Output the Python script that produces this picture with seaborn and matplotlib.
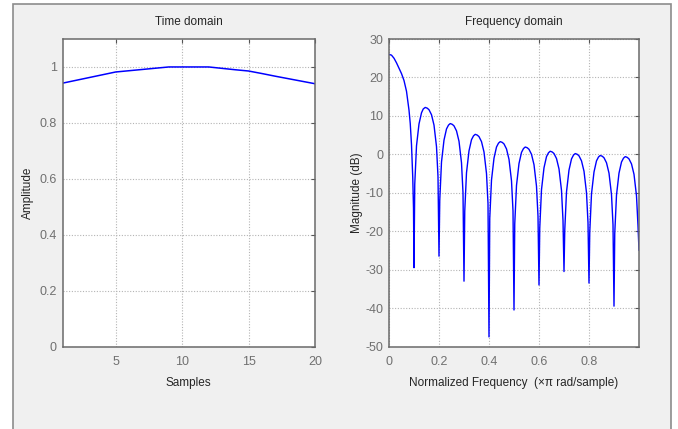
import matplotlib
matplotlib.use("Agg")
import matplotlib.pyplot as plt
from matplotlib.patches import Rectangle
import seaborn as sns

# Time domain: window samples
samples = list(range(1, 21))
amplitude = [0.942, 0.952, 0.962, 0.972, 0.982, 0.9865, 0.991, 0.9955, 1.0, 1.0,
             1.0, 1.0, 0.995, 0.990, 0.9855, 0.9765, 0.967, 0.958, 0.949, 0.940]

# Frequency domain: magnitude response
freq = [0.0, 0.01, 0.02, 0.03, 0.04, 0.05, 0.06, 0.07, 0.08, 0.085, 0.09, 0.095, 0.098, 0.1,
        0.103, 0.11, 0.12, 0.13, 0.137, 0.145, 0.153, 0.16, 0.17, 0.18, 0.19, 0.196, 0.2,
        0.203, 0.21, 0.22, 0.23, 0.238, 0.245, 0.253, 0.26, 0.27, 0.28, 0.29, 0.296, 0.3,
        0.303, 0.31, 0.32, 0.33, 0.338, 0.345, 0.353, 0.36, 0.37, 0.38, 0.39, 0.396, 0.4,
        0.403, 0.41, 0.42, 0.43, 0.438, 0.445, 0.453, 0.46, 0.47, 0.48, 0.49, 0.496, 0.5,
        0.503, 0.51, 0.52, 0.53, 0.538, 0.545, 0.553, 0.56, 0.57, 0.58, 0.59, 0.596, 0.6,
        0.603, 0.61, 0.62, 0.63, 0.638, 0.645, 0.653, 0.66, 0.67, 0.68, 0.69, 0.696, 0.7,
        0.703, 0.71, 0.72, 0.73, 0.738, 0.745, 0.753, 0.76, 0.77, 0.78, 0.79, 0.796, 0.8,
        0.803, 0.81, 0.82, 0.83, 0.838, 0.845, 0.853, 0.86, 0.87, 0.88, 0.89, 0.896, 0.9,
        0.903, 0.91, 0.92, 0.93, 0.938, 0.945, 0.953, 0.96, 0.97, 0.98, 0.99, 0.996, 1.0]
magnitude = [26.0, 25.8, 25.0, 23.8, 22.4, 21.0, 19.2, 16.4, 11.5, 8.0, 2.5, -6.0, -14.0, -29.5,
             -7.8, 2.2, 7.9, 10.8, 11.8, 12.2, 12.0, 11.6, 10.3, 7.6, 2.0, -5.8, -26.5,
             -12.0, -2.0, 3.7, 6.6, 7.6, 8.0, 7.8, 7.4, 6.1, 3.4, -2.2, -10.0, -33.0,
             -14.8, -4.8, 0.9, 3.8, 4.8, 5.2, 5.0, 4.6, 3.3, 0.6, -5.0, -12.8, -47.5,
             -16.7, -6.7, -1.0, 1.9, 2.9, 3.3, 3.1, 2.7, 1.4, -1.3, -6.9, -14.7, -40.5,
             -18.1, -8.1, -2.4, 0.5, 1.5, 1.9, 1.7, 1.3, 0.0, -2.7, -8.3, -16.1, -34.0,
             -19.2, -9.2, -3.5, -0.6, 0.4, 0.8, 0.6, 0.2, -1.1, -3.8, -9.4, -17.2, -30.5,
             -19.8, -9.8, -4.1, -1.2, -0.2, 0.2, 0.0, -0.4, -1.7, -4.4, -10.0, -17.8, -33.5,
             -20.3, -10.3, -4.6, -1.7, -0.7, -0.3, -0.5, -0.9, -2.2, -4.9, -10.5, -18.3, -39.5,
             -20.6, -10.6, -4.9, -2.0, -1.0, -0.6, -0.8, -1.2, -2.5, -5.2, -10.8, -18.6, -25.0]

time_xticks = [5, 10, 15, 20]
time_yticks = [0, 0.2, 0.4, 0.6, 0.8, 1]
freq_xticks = [0, 0.2, 0.4, 0.6, 0.8]
freq_yticks = [-50, -40, -30, -20, -10, 0, 10, 20, 30]

sns.set_style("white")
plt.rcParams['font.family'] = ['Liberation Sans', 'DejaVu Sans']
plt.rcParams['axes.unicode_minus'] = False

W, H = 678, 429
fig = plt.figure(figsize=(W / 100, H / 100), dpi=100, facecolor="white")

# grey panel behind the axes
fig.patches.append(Rectangle((13 / W, -0.05), (671 - 13) / W, (H - 4) / H + 0.05,
                             transform=fig.transFigure, facecolor="#f0f0f0",
                             edgecolor="#8c8c8c", linewidth=1.2, zorder=-10))


def style_axes(ax):
    ax.set_facecolor("white")
    ax.grid(True, color="#b4b4b4", linestyle=(0, (1, 1.5)), linewidth=0.8)
    for side in ax.spines:
        ax.spines[side].set_visible(True)
        ax.spines[side].set_color("#6a6a6a")
        ax.spines[side].set_linewidth(1.1)
    ax.tick_params(direction="in", length=3, width=0.8, color="#555555",
                   top=True, right=True, labelsize=9, labelcolor="#707070")
    ax.tick_params(axis="x", pad=7)
    ax.tick_params(axis="y", pad=4)


ax1 = fig.add_axes([62.5 / W, (H - 346.5) / H, 252.5 / W, 307.5 / H])
sns.lineplot(x=samples, y=amplitude, ax=ax1, color="#0000ff", linewidth=1.1)
ax1.set_xlim(1, 20)
ax1.set_ylim(0, 1.1)
ax1.set_xticks(time_xticks)
ax1.set_yticks(time_yticks)
ax1.set_yticklabels(["0", "0.2", "0.4", "0.6", "0.8", "1"])
style_axes(ax1)
ax1.set_title("Time domain", fontsize=8.5, pad=10)
ax1.set_xlabel("Samples", fontsize=8.5, labelpad=6)
ax1.set_ylabel("Amplitude", fontsize=8.5, labelpad=4)

ax2 = fig.add_axes([389 / W, (H - 346.5) / H, 250 / W, 307.5 / H])
sns.lineplot(x=freq, y=magnitude, ax=ax2, color="#0000ff", linewidth=1.0)
ax2.set_xlim(0, 1)
ax2.set_ylim(-50, 30)
ax2.set_xticks(freq_xticks)
ax2.set_xticklabels(["0", "0.2", "0.4", "0.6", "0.8"])
ax2.set_yticks(freq_yticks)
style_axes(ax2)
ax2.set_title("Frequency domain", fontsize=8.5, pad=10)
ax2.set_xlabel("Normalized Frequency  (\u00d7\u03c0 rad/sample)", fontsize=8.5, labelpad=6)
ax2.set_ylabel("Magnitude (dB)", fontsize=8.5, labelpad=2)

fig.savefig("out.png", dpi=100, facecolor="white")
